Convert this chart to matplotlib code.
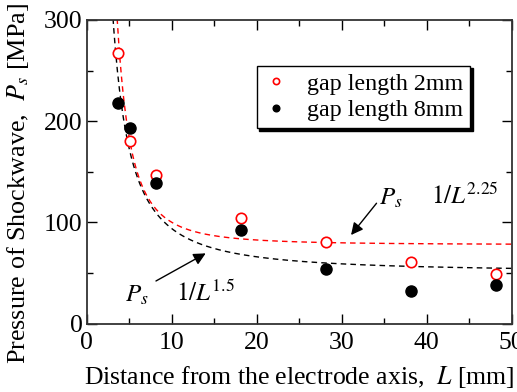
import numpy as np
import matplotlib
matplotlib.use("Agg")
import matplotlib.pyplot as plt
from matplotlib.ticker import MultipleLocator

plt.rcParams['font.family'] = ['Liberation Serif', 'DejaVu Serif']
plt.rcParams['mathtext.fontset'] = 'stix'

# Data
L_mm = [3.7, 5.1, 8.1, 18.1, 28.2, 38.1, 48.1]
P_gap2 = [267, 180.5, 147, 104, 81, 61, 49]
P_gap8 = [218, 193, 139, 93, 54, 32, 38]

# Fit curves P = a + b / L^n
fit2_a, fit2_b, fit2_n = 78.0, 3950.0, 2.25
fit8_a, fit8_b, fit8_n = 50.8, 1366.0, 1.5

legend_labels = ["gap length 2mm", "gap length 8mm"]
xlabel = "Distance from the electrode axis,  $L$ [mm]"
ylabel = "Pressure of Shockwave,  $P_s$ [MPa]"

fig = plt.figure(figsize=(5.17, 3.92), dpi=100)
ax = fig.add_axes([0.1677, 0.1742, 0.9897 - 0.1677, 0.949 - 0.1742])

Lc = np.linspace(2.5, 50, 600)
ax.plot(Lc, fit8_a + fit8_b / Lc**fit8_n, color='black', ls=(0, (4, 3)), lw=1.0)
ax.plot(Lc, fit2_a + fit2_b / Lc**fit2_n, color='red', ls=(0, (4, 3)), lw=1.0)

ax.plot(L_mm, P_gap2, 'o', mfc='white', mec='red', mew=1.2, ms=7.5,
        label=legend_labels[0], zorder=3)
ax.plot(L_mm, P_gap8, 'o', mfc='black', mec='black', ms=8,
        label=legend_labels[1], zorder=3)

ax.set_xlim(0, 50)
ax.set_ylim(0, 300)
ax.xaxis.set_major_locator(MultipleLocator(10))
ax.xaxis.set_minor_locator(MultipleLocator(5))
ax.yaxis.set_major_locator(MultipleLocator(100))
ax.yaxis.set_minor_locator(MultipleLocator(50))
ax.tick_params(which='both', direction='in', top=True, right=True, width=1.0)
ax.tick_params(which='major', length=7, labelsize=18.5)
ax.tick_params(which='minor', length=4)
ax.tick_params(axis='x', which='major', pad=6)
ax.tick_params(axis='y', which='major', pad=3)
for s in ax.spines.values():
    s.set_linewidth(1.3)
    s.set_color('#333333')

ax.set_xlabel(xlabel, fontsize=18.5, labelpad=7)
ax.set_ylabel(ylabel, fontsize=18.8)
ax.yaxis.set_label_coords(-0.131, 0.46)

leg = ax.legend(loc='upper left', bbox_to_anchor=(0.4, 0.85), fontsize=17.3,
                frameon=True, fancybox=False, shadow={'color': 'black', 'alpha': 1},
                handlelength=1.0, handletextpad=0.8, borderpad=0.3,
                labelspacing=0.2, markerscale=0.6, borderaxespad=0)
leg.get_frame().set_edgecolor('black')
leg.get_frame().set_linewidth(1.0)

ax.annotate("", xy=(31.1, 87.6), xytext=(34.1, 119),
            arrowprops=dict(arrowstyle='-|>', color='black', lw=1.0, mutation_scale=18,
                            shrinkA=0, shrinkB=0))
ax.text(34.4, 118, "$P_s$", fontsize=18, ha='left', va='baseline')
ax.text(40.5, 118, "$1/L^{2.25}$", fontsize=18, ha='left', va='baseline')

ax.annotate("", xy=(14.0, 69.5), xytext=(8.15, 42.2),
            arrowprops=dict(arrowstyle='-|>', color='black', lw=1.0, mutation_scale=18,
                            shrinkA=0, shrinkB=0))
ax.text(4.5, 22, "$P_s$", fontsize=18, ha='left', va='baseline')
ax.text(10.5, 22, "$1/L^{1.5}$", fontsize=18, ha='left', va='baseline')

fig.savefig("out.png", dpi=100)
